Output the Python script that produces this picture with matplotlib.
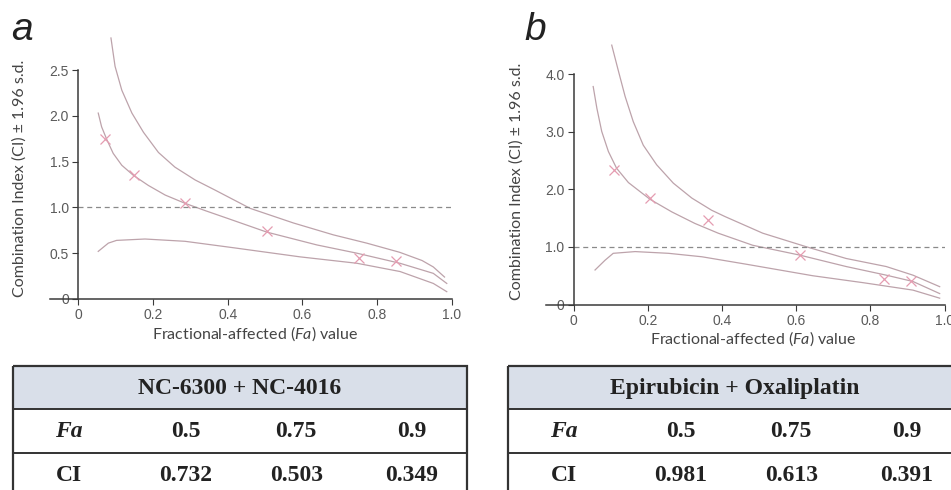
import numpy as np
import matplotlib
matplotlib.use("Agg")
from matplotlib import pyplot as plt
from matplotlib.patches import Rectangle

plt.rcParams["font.family"] = ["Liberation Sans", "DejaVu Sans"]
plt.rcParams["mathtext.fontset"] = "custom"
plt.rcParams["mathtext.it"] = "Lato:italic"
plt.rcParams["mathtext.rm"] = "Lato"

# panel a: NC-6300 + NC-4016
a_up_fa = [0.088, 0.099, 0.117, 0.144, 0.175, 0.215, 0.259, 0.313, 0.366, 0.46, 0.576,
           0.683, 0.772, 0.86, 0.92, 0.95, 0.98]
a_up_ci = [2.85, 2.54, 2.28, 2.03, 1.82, 1.60, 1.44, 1.30, 1.19, 0.99, 0.83,
           0.70, 0.61, 0.51, 0.42, 0.35, 0.24]
a_mid_fa = [0.054, 0.063, 0.077, 0.094, 0.117, 0.148, 0.188, 0.233, 0.286, 0.34, 0.40,
            0.505, 0.639, 0.746, 0.861, 0.95, 0.986]
a_mid_ci = [2.03, 1.88, 1.74, 1.59, 1.46, 1.35, 1.24, 1.135, 1.045, 0.965, 0.88,
            0.73, 0.59, 0.50, 0.39, 0.28, 0.17]
a_low_fa = [0.054, 0.081, 0.103, 0.179, 0.286, 0.415, 0.594, 0.746, 0.861, 0.95, 0.986]
a_low_ci = [0.52, 0.61, 0.64, 0.655, 0.63, 0.56, 0.46, 0.39, 0.30, 0.17, 0.08]
a_pts_fa = [0.073, 0.15, 0.287, 0.505, 0.75, 0.85]
a_pts_ci = [1.75, 1.35, 1.05, 0.74, 0.45, 0.42]

# panel b: Epirubicin + Oxaliplatin
b_up_fa = [0.103, 0.121, 0.139, 0.161, 0.188, 0.224, 0.269, 0.319, 0.372, 0.408, 0.51,
           0.627, 0.735, 0.843, 0.915, 0.987]
b_up_ci = [4.51, 4.06, 3.62, 3.18, 2.77, 2.43, 2.11, 1.85, 1.64, 1.53, 1.24,
           1.005, 0.80, 0.66, 0.51, 0.31]
b_mid_fa = [0.053, 0.063, 0.076, 0.094, 0.116, 0.148, 0.206, 0.265, 0.327, 0.39, 0.483,
            0.609, 0.735, 0.843, 0.915, 0.987]
b_mid_ci = [3.79, 3.41, 3.01, 2.66, 2.37, 2.12, 1.83, 1.61, 1.41, 1.24, 1.03,
            0.86, 0.66, 0.51, 0.40, 0.19]
b_low_fa = [0.058, 0.085, 0.107, 0.166, 0.256, 0.346, 0.466, 0.645, 0.78, 0.915, 0.987]
b_low_ci = [0.60, 0.77, 0.89, 0.92, 0.89, 0.83, 0.70, 0.50, 0.38, 0.25, 0.11]
b_pts_fa = [0.11, 0.207, 0.362, 0.611, 0.836, 0.91]
b_pts_ci = [2.34, 1.85, 1.47, 0.86, 0.44, 0.40]

# tables
fa_levels = ["0.5", "0.75", "0.9"]
a_title = "NC-6300 + NC-4016"
a_ci_vals = ["0.732", "0.503", "0.349"]
b_title = "Epirubicin + Oxaliplatin"
b_ci_vals = ["0.981", "0.613", "0.391"]

W, H = 951, 490
fig = plt.figure(figsize=(W / 100, H / 100), dpi=100)

LINE_C = "#bda3ab"
PT_C = "#e59cb1"
AX_C = "#3a3a3a"
TICK_C = "#5a5a5a"


def px_axes(left, right, top, bottom):
    return fig.add_axes([left / W, 1 - bottom / H, (right - left) / W, (bottom - top) / H])


def draw_panel(ax, ymax, ytop, yticks, ylabels, curves, pts):
    for fa, ci in curves:
        ax.plot(fa, ci, color=LINE_C, lw=0.9)
    ax.plot(pts[0], pts[1], ls="none", marker="x", ms=7, mew=0.9, color=PT_C)
    ax.plot([0, 1.0], [1.0, 1.0], color="#8a8a8a", lw=0.9, dashes=(4, 3))
    ax.set_xlim(-0.075, 1.0)
    ax.set_ylim(0, ytop)
    ax.spines["top"].set_visible(False)
    ax.spines["right"].set_visible(False)
    ax.spines["left"].set_position(("data", 0))
    ax.spines["left"].set_bounds(0, ymax)
    for s in ("left", "bottom"):
        ax.spines[s].set_color(AX_C)
        ax.spines[s].set_linewidth(1.1)
    ax.set_xticks([0, 0.2, 0.4, 0.6, 0.8, 1.0])
    ax.set_xticklabels(["0", "0.2", "0.4", "0.6", "0.8", "1.0"])
    ax.set_yticks(yticks)
    ax.set_yticklabels(ylabels)
    ax.tick_params(colors=AX_C, labelcolor=TICK_C, labelsize=10, length=4, width=0.8,
                   pad=2.5)
    ax.patch.set_alpha(0)


ax_a = px_axes(50, 452, 33.4, 299)
draw_panel(ax_a, 2.5, 2.9, [0, 0.5, 1.0, 1.5, 2.0, 2.5],
           ["0", "0.5", "1.0", "1.5", "2.0", "2.5"],
           [(a_up_fa, a_up_ci), (a_mid_fa, a_mid_ci), (a_low_fa, a_low_ci)],
           (a_pts_fa, a_pts_ci))

ax_b = px_axes(545.7, 944.5, 34.2, 304.5)
draw_panel(ax_b, 4.0, 4.7, [0, 1.0, 2.0, 3.0, 4.0],
           ["0", "1.0", "2.0", "3.0", "4.0"],
           [(b_up_fa, b_up_ci), (b_mid_fa, b_mid_ci), (b_low_fa, b_low_ci)],
           (b_pts_fa, b_pts_ci))

ylab = "Combination Index (CI) \u00b1 1.96 s.d."
xlab = r"Fractional-affected ($\mathit{Fa}$) value"
fig.text(20 / W, 1 - 178 / H, ylab, rotation=90, ha="center", va="center",
         family="Lato", fontsize=11.5, color="#444444")
fig.text(517 / W, 1 - 181 / H, ylab, rotation=90, ha="center", va="center",
         family="Lato", fontsize=11.5, color="#444444")
fig.text(255 / W, 1 - 334 / H, xlab, ha="center", va="center",
         family="Lato", fontsize=11.5, color="#444444")
fig.text(753 / W, 1 - 339 / H, xlab, ha="center", va="center",
         family="Lato", fontsize=11.5, color="#444444")

fig.text(11 / W, 1 - 40 / H, "a", ha="left", va="baseline", fontsize=28,
         style="italic", color="#222222")
fig.text(524 / W, 1 - 40 / H, "b", ha="left", va="baseline", fontsize=28,
         style="italic", color="#222222")

# tables drawn in pixel space
tab = fig.add_axes([0, 0, 1, 1])
tab.set_xlim(0, W)
tab.set_ylim(H, 0)
tab.axis("off")

col_frac = [0.123, 0.38, 0.624, 0.878]
row_h = [43, 44, 44]


def draw_table(left, right, top, title, ci_vals):
    width = right - left
    y0 = top
    tab.add_patch(Rectangle((left, y0), width, row_h[0], facecolor="#d9dfe9",
                            edgecolor="none", hatch="////", lw=0))
    tab.add_patch(Rectangle((left, y0), width, row_h[0], facecolor="none",
                            edgecolor="#d9dfe9", hatch="\\\\\\\\", lw=0))
    total = sum(row_h)
    tab.add_patch(Rectangle((left, y0), width, total, facecolor="none",
                            edgecolor="#333333", lw=1.6))
    tab.plot([left, right], [y0 + row_h[0]] * 2, color="#333333", lw=1.4)
    tab.plot([left, right], [y0 + row_h[0] + row_h[1]] * 2, color="#333333", lw=1.4)
    kw = dict(family="Liberation Serif", fontweight="bold", fontsize=17,
              color="#222222", ha="center", va="center")
    tab.text(left + width / 2, y0 + row_h[0] / 2 + 1, title, **kw)
    yc1 = y0 + row_h[0] + row_h[1] / 2
    yc2 = y0 + row_h[0] + row_h[1] + row_h[2] / 2
    tab.text(left + col_frac[0] * width, yc1, "Fa", style="italic", **kw)
    tab.text(left + col_frac[0] * width, yc2, "CI", **kw)
    for f, lvl, ci in zip(col_frac[1:], fa_levels, ci_vals):
        tab.text(left + f * width, yc1, lvl, **kw)
        tab.text(left + f * width, yc2, ci, **kw)


plt.rcParams["hatch.color"] = "#c9d0dc"
plt.rcParams["hatch.linewidth"] = 0.5
draw_table(13, 467, 366, a_title, a_ci_vals)
draw_table(508, 962, 366, b_title, b_ci_vals)

fig.savefig("out.png", dpi=100)
